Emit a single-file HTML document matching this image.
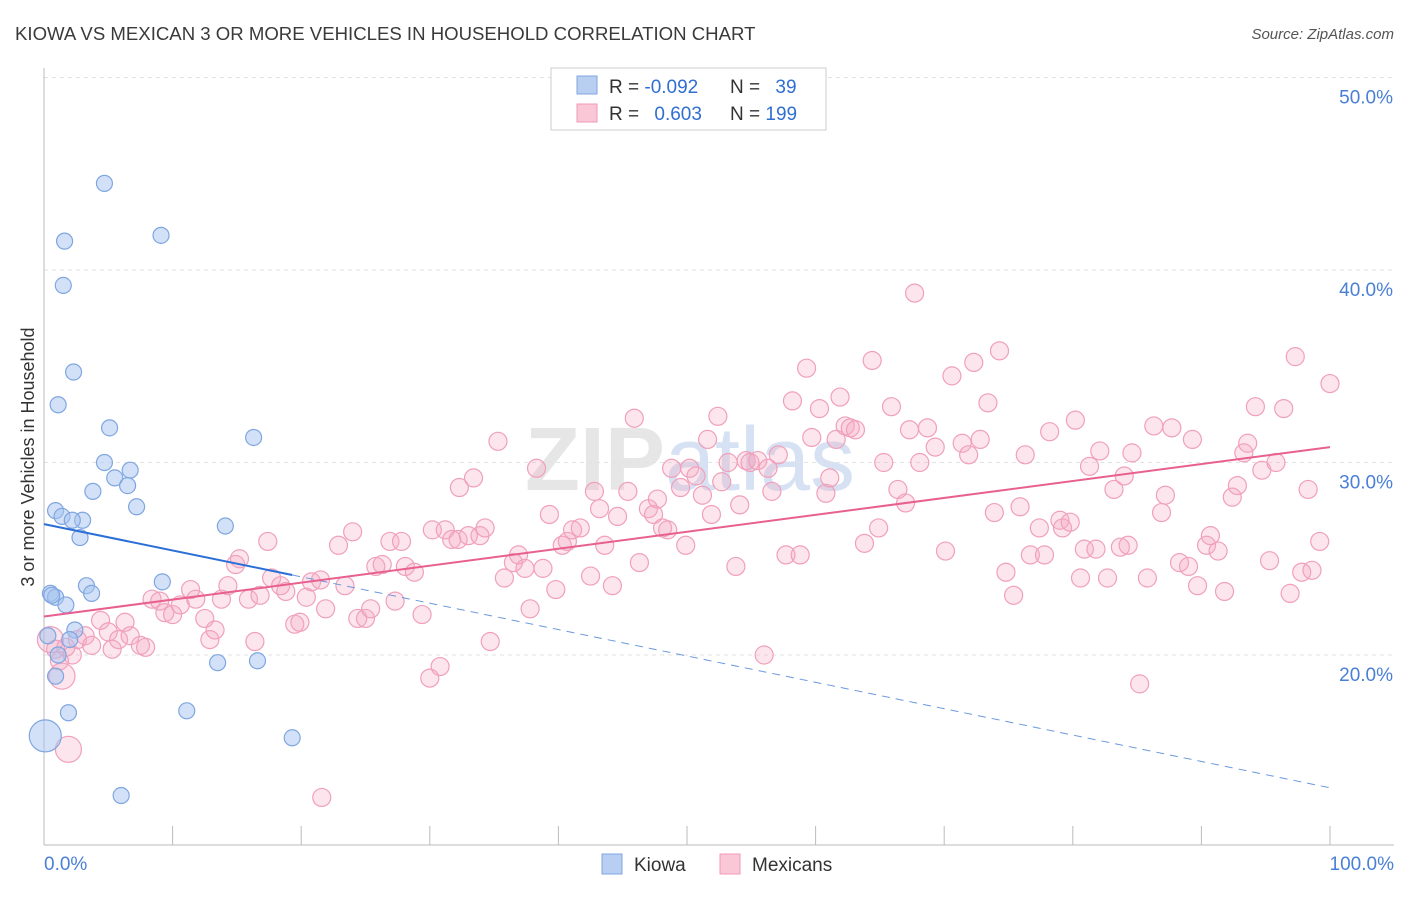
<!DOCTYPE html>
<html><head><meta charset="utf-8"><style>
body{margin:0;background:#fff;font-family:"Liberation Sans",sans-serif;}
svg text{font-family:"Liberation Sans",sans-serif;}
</style></head><body>
<svg id="chart" width="1406" height="892" xmlns="http://www.w3.org/2000/svg">
<text x="15" y="40" font-size="18.6" fill="#3a3a3a">KIOWA VS MEXICAN 3 OR MORE VEHICLES IN HOUSEHOLD CORRELATION CHART</text>
<text x="1394" y="39" font-size="15" fill="#555" text-anchor="end" font-style="italic">Source: ZipAtlas.com</text>
<text x="34" y="457" font-size="18" fill="#333" text-anchor="middle" transform="rotate(-90 34 457)">3 or more Vehicles in Household</text>
<text x="690" y="490" font-size="90" fill="#e6e6e6" text-anchor="middle" font-weight="bold">ZIP<tspan font-weight="normal" fill="#d6e2f3">atlas</tspan></text>
<g id="grid"></g>
<g id="pts"></g>
<g id="lines"></g>
<g>
<rect x="551" y="68" width="275" height="62" fill="#fff" stroke="#ccc"/>
<rect x="577" y="76" width="20" height="18" fill="#b9cff2" stroke="#7fa6e0"/>
<text x="609" y="93" font-size="19" fill="#333">R = <tspan fill="#2f6fd1">-0.092</tspan></text>
<text x="730" y="93" font-size="19" fill="#333">N = <tspan fill="#2f6fd1" dx="10">39</tspan></text>
<rect x="577" y="104" width="20" height="18" fill="#f9c7d6" stroke="#f09ab5"/>
<text x="609" y="120" font-size="19" fill="#333">R = <tspan fill="#2f6fd1" dx="10">0.603</tspan></text>
<text x="730" y="120" font-size="19" fill="#333">N = <tspan fill="#2f6fd1">199</tspan></text>
</g>
<g>
<rect x="602" y="854" width="20" height="20" fill="#b9cff2" stroke="#7fa6e0"/>
<text x="634" y="871" font-size="19" fill="#333">Kiowa</text>
<rect x="720" y="854" width="20" height="20" fill="#f9c7d6" stroke="#f09ab5"/>
<text x="752" y="871" font-size="19" fill="#333">Mexicans</text>
</g>
</svg>
<script>
const yTicks=[20,30,40,50];
const yTickLabels=["20.0%","30.0%","40.0%","50.0%"];
const xTickCount=10;
const kiowaX=[4.7,1.6,9.1,1.5,2.3,1.1,5.1,4.7,6.7,5.5,6.5,3.8,7.2,0.9,1.4,3.0,2.2,2.8,14.1,16.3,9.2,3.3,3.7,0.5,0.9,1.7,2.4,0.3,2.0,1.1,0.9,13.5,16.6,1.9,11.1,19.3,6.0,0.1,0.6];
const kiowaY=[44.5,41.5,41.8,39.2,34.7,33.0,31.8,30.0,29.6,29.2,28.8,28.5,27.7,27.5,27.2,27.0,27.0,26.1,26.7,31.3,23.8,23.6,23.2,23.2,23.0,22.6,21.3,21.0,20.8,20.0,18.9,19.6,19.7,17.0,17.1,15.7,12.7,15.8,23.1];
const kiowaBig=[37];
const mexX=[0.5,0.9,1.2,1.4,1.7,2.2,2.6,3.2,3.7,4.4,5.0,5.3,5.8,6.3,6.7,7.5,7.9,8.4,9.0,9.4,10.0,10.6,11.4,11.8,12.5,12.9,13.3,13.8,14.3,14.9,15.2,15.9,16.4,16.8,17.4,17.7,18.4,18.8,19.5,19.9,20.4,20.8,21.5,21.9,22.9,23.4,24.0,24.4,25.0,25.4,25.8,26.3,26.9,27.3,27.8,28.1,28.8,29.4,30.0,30.2,30.8,31.2,31.7,32.2,32.3,33.0,33.4,33.9,34.3,34.7,35.3,35.8,36.5,36.9,37.4,37.8,38.3,38.8,39.3,39.8,40.3,40.7,41.1,41.7,42.5,42.8,43.2,43.6,44.2,44.6,45.4,45.9,46.3,47.0,47.4,47.7,48.1,48.5,48.8,49.5,49.9,50.2,50.7,51.2,51.6,51.9,52.4,52.7,53.2,53.8,54.1,54.6,54.9,55.5,56.0,56.3,56.6,57.1,57.7,58.2,58.8,59.3,59.7,60.3,60.8,61.1,61.6,61.9,62.3,62.7,63.1,63.8,64.4,64.9,65.3,65.9,66.4,67.0,67.3,67.7,68.1,68.7,69.3,70.1,70.6,71.4,71.9,72.3,72.8,73.4,73.9,74.3,74.8,75.4,75.9,76.3,76.7,77.4,77.8,78.2,79.0,79.2,79.8,80.2,80.6,80.9,81.3,81.8,82.1,82.7,83.2,83.7,84.0,84.3,84.6,85.2,85.8,86.3,86.9,87.2,87.7,88.3,89.0,89.3,89.7,90.4,90.7,91.3,91.8,92.4,92.8,93.3,93.6,94.2,94.7,95.3,95.8,96.4,96.9,97.3,97.8,98.3,98.6,99.2,100,1.9,21.6];
const mexY=[20.8,20.3,19.7,18.9,20.4,20.0,20.8,21.0,20.5,21.8,21.2,20.3,20.8,21.7,21.0,20.5,20.4,22.9,22.8,22.2,22.1,22.6,23.4,22.9,21.9,20.8,21.3,22.9,23.6,24.7,25.0,22.9,20.7,23.1,25.9,24.0,23.6,23.3,21.6,21.7,23.0,23.8,23.9,22.4,25.7,23.6,26.4,21.9,21.9,22.4,24.6,24.7,25.9,22.8,25.9,24.6,24.3,22.1,18.8,26.5,19.4,26.5,26.0,26.0,28.7,26.2,29.2,26.2,26.6,20.7,31.1,24.0,24.8,25.2,24.5,22.4,29.7,24.5,27.3,23.4,25.7,25.9,26.5,26.6,24.1,28.5,27.6,25.7,23.6,27.2,28.5,32.3,24.8,27.6,27.3,28.1,26.6,26.5,29.7,28.7,25.7,29.7,29.3,28.3,31.2,27.3,32.4,29.0,30.0,24.6,27.8,30.1,30.0,30.1,20.0,29.7,28.5,30.4,25.2,33.2,25.2,34.9,31.3,32.8,28.4,29.2,31.2,33.4,31.9,31.8,31.7,25.8,35.3,26.6,30.0,32.9,28.6,27.9,31.7,38.8,30.0,31.8,30.8,25.4,34.5,31.0,30.4,35.2,31.2,33.1,27.4,35.8,24.3,23.1,27.7,30.4,25.2,26.6,25.2,31.6,27.0,26.6,26.9,32.2,24.0,25.5,29.8,25.5,30.6,24.0,28.6,25.6,29.3,25.7,30.5,18.5,24.0,31.9,27.4,28.3,31.8,24.8,24.6,31.2,23.6,25.7,26.2,25.4,23.3,28.2,28.8,30.5,31.0,32.9,29.6,24.9,30.0,32.8,23.2,35.5,24.3,28.6,24.4,25.9,34.1,15.1,12.6];
const mexBig=[0,3,mexX.length-2];
const kiowaFit=[26.8,-0.137];
const mexFit=[22.0,0.088];

const NS="http://www.w3.org/2000/svg";
const X0=44,X1=1330;
const xs=v=>X0+(X1-X0)*v/100;
const ys=v=>1040-19.25*v;
function mk(tag,attrs,parent){const e=document.createElementNS(NS,tag);for(const k in attrs)e.setAttribute(k,attrs[k]);parent.appendChild(e);return e;}
const grid=document.getElementById('grid');
yTicks.forEach((t,i)=>{
  const l=mk('line',{x1:X0,x2:1394,y1:ys(t),y2:ys(t),stroke:'#e2e2e2','stroke-dasharray':'4,4'},grid);
  
  
  const tx=mk('text',{x:1393,y:ys(t)+26,'font-size':19,fill:'#4a7fd6','text-anchor':'end'},grid);
  tx.textContent=yTickLabels[i];
  
  
});
const ax=mk('line',{x1:X0,x2:1394,y1:845,y2:845,stroke:'#bbb'},grid);


const yax=mk('line',{x1:X0,x2:X0,y1:68,y2:845,stroke:'#bbb'},grid);


for(let i=0;i<=xTickCount;i++){
  const t=mk('line',{x1:xs(i*10),x2:xs(i*10),y1:826,y2:845,stroke:'#bbb'},grid);
  
  
}
const xl0=mk('text',{x:44,y:870,'font-size':19,fill:'#4a7fd6'},grid);xl0.textContent='0.0%';


const xl1=mk('text',{x:1394,y:870,'font-size':19,fill:'#4a7fd6','text-anchor':'end'},grid);xl1.textContent='100.0%';


const pts=document.getElementById('pts');
mexX.forEach((x,i)=>{
  const c=mk('circle',{cx:xs(x),cy:ys(mexY[i]),r:mexBig.includes(i)?13:9,fill:'rgba(246,170,196,0.3)',stroke:'#f0a0ba','stroke-width':1.2},pts);
  
  
});
kiowaX.forEach((x,i)=>{
  const c=mk('circle',{cx:xs(x),cy:ys(kiowaY[i]),r:kiowaBig.includes(i)?16:8,fill:'rgba(165,195,240,0.5)',stroke:'#7fa6e0','stroke-width':1.2},pts);
  
  
});
const lines=document.getElementById('lines');
const f=(p,x)=>p[0]+p[1]*x;
const kMax=Math.max(...kiowaX);
const l1=mk('line',{x1:xs(0),y1:ys(f(kiowaFit,0)),x2:xs(kMax),y2:ys(f(kiowaFit,kMax)),stroke:'#2a6fd6','stroke-width':2},lines);


const l2=mk('line',{x1:xs(kMax),y1:ys(f(kiowaFit,kMax)),x2:xs(100),y2:ys(f(kiowaFit,100)),stroke:'#6a98dd','stroke-width':1,'stroke-dasharray':'8,6'},lines);


const l3=mk('line',{x1:xs(0),y1:ys(f(mexFit,0)),x2:xs(100),y2:ys(f(mexFit,100)),stroke:'#e8608f','stroke-width':2},lines);


</script>
</body></html>
